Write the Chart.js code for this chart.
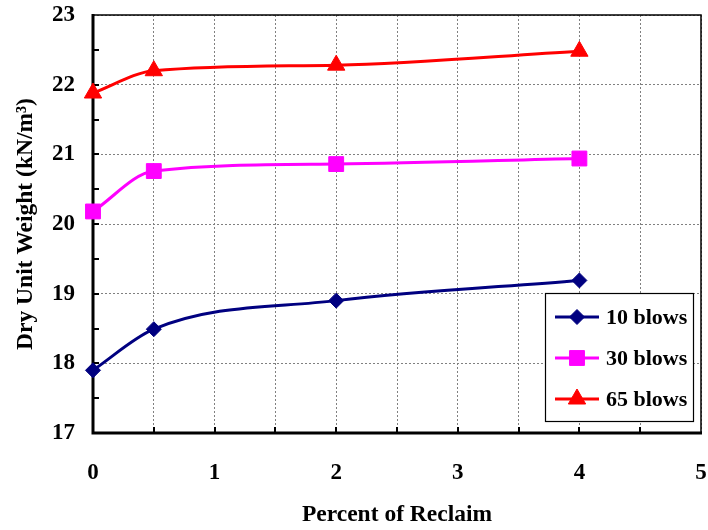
<!DOCTYPE html>
<html>
<head>
<meta charset="utf-8">
<script src="https://cdn.jsdelivr.net/npm/chart.js@4/dist/chart.umd.min.js"></script>
<style>
html,body{margin:0;padding:0;background:#fff;}
#c{display:block;}
</style>
</head>
<body>
<canvas id="c" width="708" height="530"></canvas>
<script>
const reclaim = [0, 0.5, 2, 4];
const blows10 = [17.9, 18.49, 18.9, 19.19];
const blows30 = [20.18, 20.76, 20.86, 20.94];
const blows65 = [21.88, 22.2, 22.28, 22.48];
const seriesNames = ['10 blows', '30 blows', '65 blows'];
const xTitle = 'Percent of Reclaim';
const yTitle = 'Dry Unit Weight (kN/m\u00B3)';

const FONT = "'Liberation Serif', 'Times New Roman', serif";

function pts(xs, ys){ return xs.map((x,i)=>({x:x, y:ys[i]})); }

const frame = {
  id: 'frame',
  beforeDatasetsDraw(chart){
    const ctx = chart.ctx, a = chart.chartArea;
    const xs = chart.scales.x, ys = chart.scales.y;
    ctx.save();
    ctx.strokeStyle = '#000';
    ctx.lineWidth = 1.5;
    ctx.beginPath();
    ctx.moveTo(a.left, a.top); ctx.lineTo(a.right, a.top); ctx.lineTo(a.right, a.bottom);
    ctx.stroke();
    ctx.lineWidth = 2;
    ctx.beginPath();
    for (let v = 0.5; v < 5; v += 0.5){
      const px = Math.round(xs.getPixelForValue(v));
      ctx.moveTo(px, a.bottom); ctx.lineTo(px, a.bottom - 6);
    }
    for (let v = 17.5; v < 23; v += 0.5){
      const py = Math.round(ys.getPixelForValue(v));
      ctx.moveTo(a.left, py); ctx.lineTo(a.left + 6, py);
    }
    ctx.stroke();
    ctx.lineWidth = 3;
    ctx.beginPath();
    ctx.moveTo(a.left, a.top - 1); ctx.lineTo(a.left, a.bottom); ctx.lineTo(a.right + 1, a.bottom);
    ctx.stroke();
    ctx.restore();
  },
  afterDraw(chart){
    const ctx = chart.ctx;
    const bx = 545, by = 293, bw = 148, bh = 128;
    ctx.save();
    ctx.fillStyle = '#fff';
    ctx.fillRect(bx, by, bw, bh);
    ctx.strokeStyle = '#000';
    ctx.lineWidth = 1.2;
    ctx.strokeRect(bx + 0.5, by + 0.5, bw, bh);
    const rows = [317, 358, 399];
    chart.data.datasets.forEach((ds, i) => {
      const y = rows[i];
      ctx.strokeStyle = ds.borderColor;
      ctx.lineWidth = ds.borderWidth;
      ctx.beginPath();
      ctx.moveTo(555, y); ctx.lineTo(599, y);
      ctx.stroke();
      ctx.fillStyle = ds.pointBackgroundColor;
      ctx.strokeStyle = ds.pointBorderColor;
      ctx.lineWidth = 1;
      Chart.helpers.drawPoint(ctx, {
        pointStyle: ds.pointStyle, radius: ds.pointRadius, borderWidth: 1, rotation: 0
      }, 577, y);
      ctx.fillStyle = '#000';
      ctx.font = "bold 22px " + FONT;
      ctx.textBaseline = 'middle';
      ctx.textAlign = 'left';
      ctx.fillText(seriesNames[i], 606, y + 1);
    });
    ctx.restore();
  }
};

const mk = (label, data, color, style, r) => ({
  label: label,
  data: data,
  borderColor: color,
  backgroundColor: color,
  pointBackgroundColor: color,
  pointBorderColor: color,
  pointBorderWidth: 1,
  borderWidth: 3,
  pointStyle: style,
  pointRadius: r,
  pointHoverRadius: r,
  cubicInterpolationMode: 'monotone',
  clip: false
});

function zeroPad(s){ s.paddingLeft = 0; s.paddingRight = 0; s.paddingTop = 0; s.paddingBottom = 0; }

new Chart(document.getElementById('c'), {
  type: 'line',
  data: {
    datasets: [
      mk(seriesNames[0], pts(reclaim, blows10), '#000080', 'rectRot', 7.5),
      mk(seriesNames[1], pts(reclaim, blows30), '#FF00FF', 'rect', 10.5),
      mk(seriesNames[2], pts(reclaim, blows65), '#FF0000', 'triangle', 10)
    ]
  },
  options: {
    responsive: false,
    animation: false,
    events: [],
    layout: { autoPadding: false, padding: { top: 15, right: 7, left: 0, bottom: 0 } },
    plugins: { legend: { display: false }, tooltip: { enabled: false } },
    scales: {
      x: {
        type: 'linear', min: 0, max: 5,
        ticks: {
          stepSize: 0.5, color: '#000', padding: 26,
          font: { family: FONT, size: 23, weight: 'bold' },
          maxRotation: 0, autoSkip: false,
          callback: v => Number.isInteger(v) ? String(v) : ''
        },
        grid: { color: '#808080', lineWidth: 1, drawTicks: false },
        border: { display: false, dash: [2, 2] },
        title: {
          display: true, text: xTitle, color: '#000',
          font: { family: FONT, size: 23.5, weight: 'bold' },
          padding: { top: 0, bottom: 1 }
        },
        afterFit: s => { s.height = 97; zeroPad(s); }
      },
      y: {
        type: 'linear', min: 17, max: 23,
        ticks: {
          stepSize: 1, color: '#000', padding: 18,
          font: { family: FONT, size: 23, weight: 'bold' }
        },
        grid: { color: '#808080', lineWidth: 1, drawTicks: false },
        border: { display: false, dash: [2, 2] },
        title: {
          display: true, text: yTitle, color: '#000',
          font: { family: FONT, size: 23.5, weight: 'bold' },
          padding: { top: 12, bottom: 0 }
        },
        afterFit: s => { s.width = 93; zeroPad(s); }
      }
    }
  },
  plugins: [frame]
});
</script>
</body>
</html>
